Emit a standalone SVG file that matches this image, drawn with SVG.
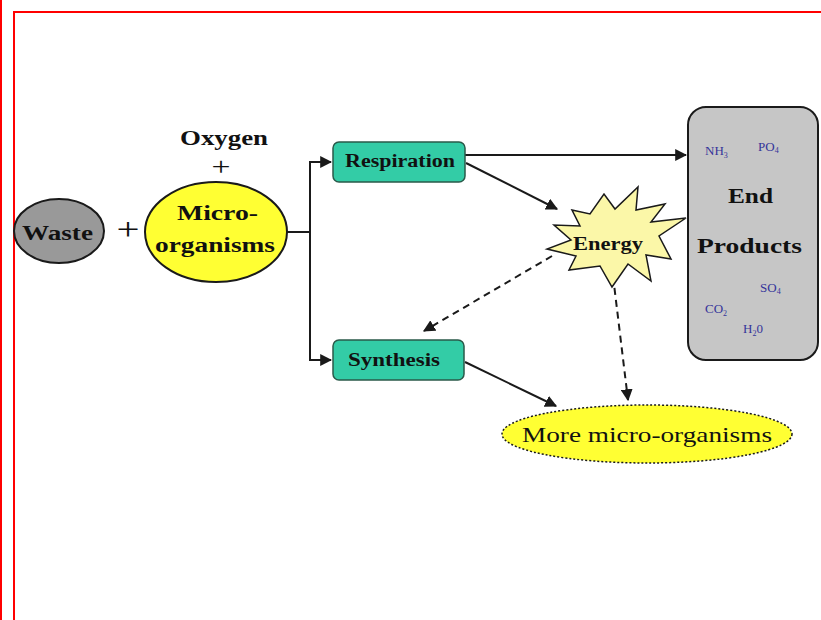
<svg xmlns="http://www.w3.org/2000/svg" width="821" height="620" viewBox="0 0 821 620">
<style>
.t{font-family:"Liberation Serif","Times New Roman",serif;fill:#111;}
.b{font-weight:bold;}
.chem{font-family:"Liberation Serif","Times New Roman",serif;font-size:13px;fill:#34349a;}
.ln{stroke:#1a1a1a;stroke-width:2;fill:none;}
.dash{stroke:#1a1a1a;stroke-width:2;fill:none;stroke-dasharray:7 5;}
.box{fill:#33cca6;stroke:#2a5a4a;stroke-width:1.5;}
</style>
<defs>
<marker id="ah" viewBox="0 0 10 10" refX="9" refY="5" markerWidth="6" markerHeight="6" markerUnits="strokeWidth" orient="auto">
<path d="M0,0 L10,5 L0,10 z" fill="#1a1a1a"/>
</marker>
</defs>
<rect x="0" y="0" width="821" height="620" fill="#ffffff"/>
<g id="frame" stroke="#ff0000" stroke-width="2" fill="none">
<line x1="1" y1="0" x2="1" y2="620"/>
<polyline points="14,620 14,12 821,12"/>
</g>
<g id="connectors">
<line class="ln" x1="287" y1="232" x2="310" y2="232"/>
<polyline class="ln" points="331,162 310,162 310,360 331,360" marker-end="url(#ah)"/>
<line class="ln" x1="310" y1="162" x2="331" y2="162" marker-end="url(#ah)"/>
<line class="ln" x1="465" y1="155" x2="686" y2="155" marker-end="url(#ah)"/>
<line class="ln" x1="466" y1="163" x2="557" y2="209" marker-end="url(#ah)"/>
<line class="ln" x1="465" y1="362" x2="556" y2="406" marker-end="url(#ah)"/>
<line class="dash" x1="552" y1="256" x2="424" y2="331" marker-end="url(#ah)"/>
<line class="dash" x1="613" y1="276" x2="628" y2="400" marker-end="url(#ah)"/>
</g>
<g id="oxygen">
<text class="t b" x="224" y="145" font-size="21" text-anchor="middle" textLength="88" lengthAdjust="spacingAndGlyphs">Oxygen</text>
<text class="t" x="221" y="175" font-size="26" text-anchor="middle" textLength="19" lengthAdjust="spacingAndGlyphs">+</text>
</g>
<g id="waste">
<ellipse cx="59" cy="231" rx="45" ry="32" fill="#999999" stroke="#1a1a1a" stroke-width="2"/>
<text class="t b" x="57.5" y="240" font-size="20" text-anchor="middle" textLength="71" lengthAdjust="spacingAndGlyphs">Waste</text>
</g>
<g id="plus">
<text class="t" x="128" y="240" font-size="32" text-anchor="middle" textLength="23" lengthAdjust="spacingAndGlyphs">+</text>
</g>
<g id="micro">
<ellipse cx="216" cy="232" rx="71" ry="50" fill="#ffff33" stroke="#1a1a1a" stroke-width="2"/>
<text class="t b" x="217.5" y="220" font-size="21" text-anchor="middle" textLength="81" lengthAdjust="spacingAndGlyphs">Micro-</text>
<text class="t b" x="215" y="252" font-size="21" text-anchor="middle" textLength="120" lengthAdjust="spacingAndGlyphs">organisms</text>
</g>
<g id="respiration">
<rect class="box" x="333" y="142" width="132" height="40" rx="6"/>
<text class="t b" x="400" y="167" font-size="18" text-anchor="middle" textLength="110" lengthAdjust="spacingAndGlyphs">Respiration</text>
</g>
<g id="synthesis">
<rect class="box" x="333" y="340" width="131" height="40" rx="6"/>
<text class="t b" x="394" y="366" font-size="18" text-anchor="middle" textLength="92" lengthAdjust="spacingAndGlyphs">Synthesis</text>
</g>
<g id="energy">
<polygon points="572,210 590,214 604,194 615,209 638,187 636,210 665,204 651,222 686,218 659,236 671,259 646,255 651,281 628,264 612,287 600,266 569,270 576,256 547,249 571,240 554,225 580,226" fill="#fbf7a8" stroke="#1a1a1a" stroke-width="1.5" stroke-linejoin="miter"/>
<text class="t" x="608" y="250" font-size="18" font-weight="600" text-anchor="middle" textLength="70" lengthAdjust="spacingAndGlyphs">Energy</text>
</g>
<g id="end-products">
<rect x="688" y="107" width="130" height="253" rx="18" fill="#c6c6c6" stroke="#1a1a1a" stroke-width="2"/>
<text class="chem" x="705" y="155">NH<tspan font-size="8" dy="3">3</tspan></text>
<text class="chem" x="758" y="151">PO<tspan font-size="8" dy="2">4</tspan></text>
<text class="t b" x="750.5" y="203" font-size="21" text-anchor="middle" textLength="45" lengthAdjust="spacingAndGlyphs">End</text>
<text class="t b" x="749.5" y="253" font-size="21" text-anchor="middle" textLength="105" lengthAdjust="spacingAndGlyphs">Products</text>
<text class="chem" x="760" y="292">SO<tspan font-size="8" dy="2">4</tspan></text>
<text class="chem" x="705" y="313">CO<tspan font-size="8" dy="3">2</tspan></text>
<text class="chem" x="743" y="333">H<tspan font-size="8" dy="3">2</tspan><tspan dy="-3">0</tspan></text>
</g>
<g id="more-micro">
<ellipse cx="647" cy="434" rx="145" ry="29" fill="#ffff33" stroke="#1a1a1a" stroke-width="1.5" stroke-dasharray="2 2"/>
<text class="t" x="647" y="442" font-size="22" text-anchor="middle" textLength="250" lengthAdjust="spacingAndGlyphs">More micro-organisms</text>
</g>
</svg>
